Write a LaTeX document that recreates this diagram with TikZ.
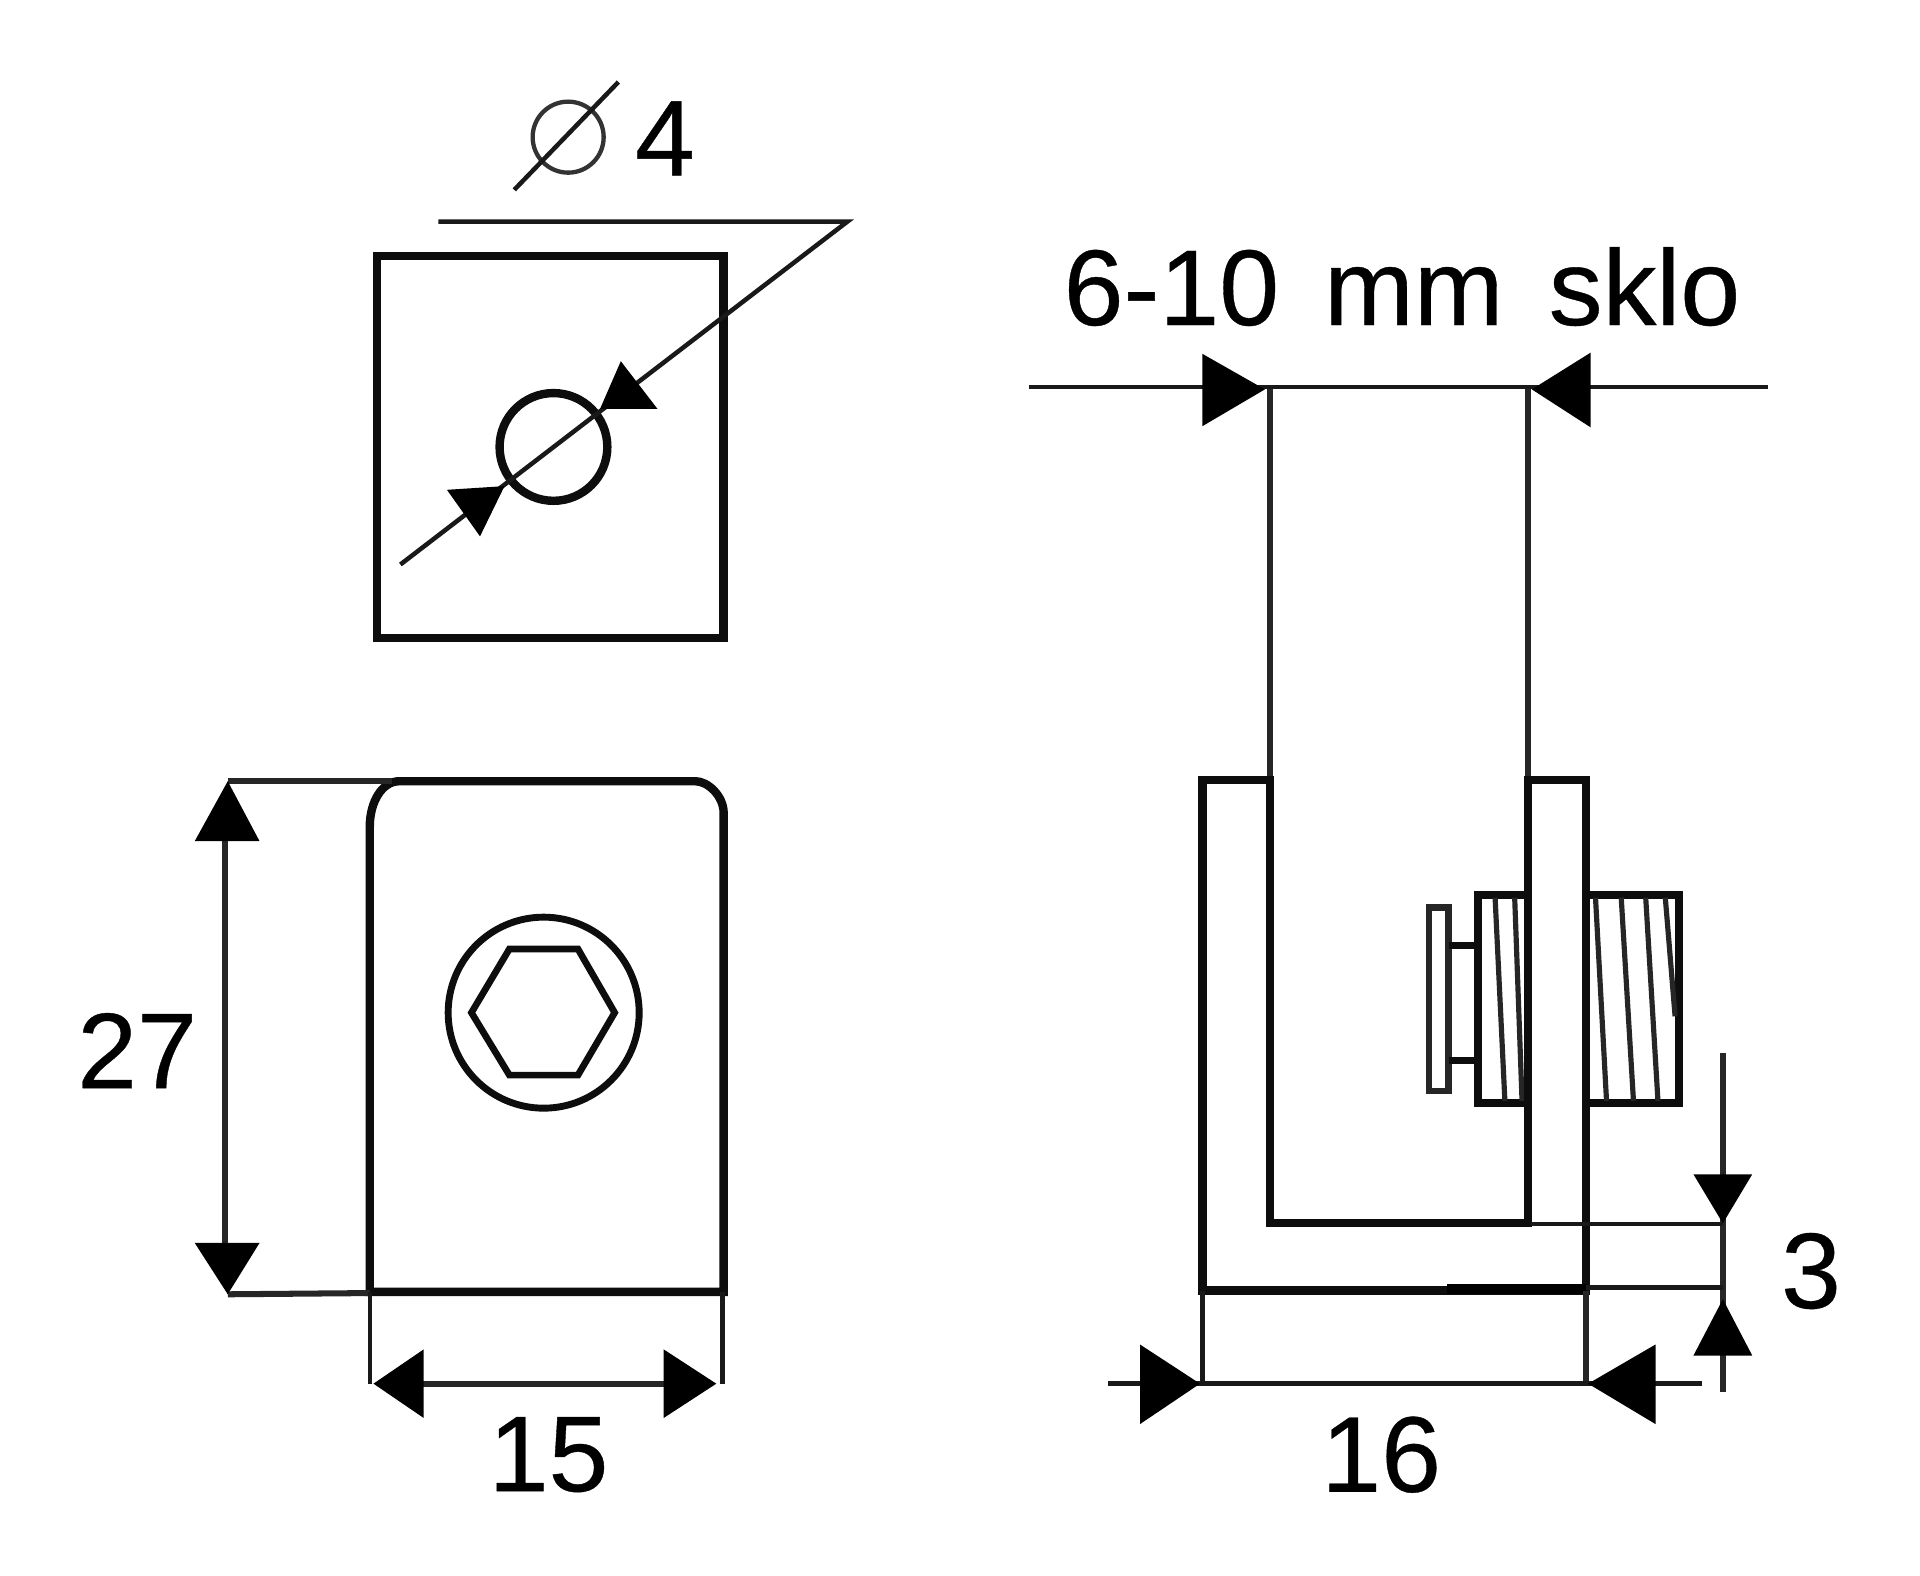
\documentclass[tikz,border=0pt]{standalone}
\usepackage{fontspec}
\setmainfont[FakeBold=0.35]{Liberation Sans}
\tikzset{
  x=0.01cm,y=-0.01cm,
  heavy/.style={line width=1.95pt,draw=black!95,line join=miter},
  medium/.style={line width=1.4pt,draw=black!85},
  thin line/.style={line width=1.05pt,draw=black!90},
  dimtext/.style={font=\fontsize{25}{28}\selectfont,inner sep=0pt,text=black},
  head/.style={fill=black,draw=none},
}
\begin{document}
\begin{tikzpicture}
\useasboundingbox (0,0) rectangle (1568,1287);
% top view
\draw[heavy] (308,209) rectangle (591,521);
\draw[heavy] (452,365) circle (44);
\coordinate (lk) at (692,181);
\draw[thin line] (358,181) -- (lk) -- (327,461);
\fill[head] (507,295) -- (537,334) -- (490,334) -- cycle;
\fill[head] (365,400) -- (412,397) -- (392,438) -- cycle;
% diameter symbol and label
\draw[line width=1pt,draw=black!80] (464,112) circle (29);
\draw[thin line] (420,155) -- (505,67);
\node[dimtext] (dia) at (543,113) {4};
% front view
\draw[heavy] (302,1055) -- (302,675) .. controls (302,655) and (312,638) .. (326,638) -- (568,638) .. controls (578,638) and (591,650) .. (591,664) -- (591,1055) -- cycle;
\draw[heavy,line width=1.6pt] (444,827) circle (78);
\draw[heavy,line width=1.55pt] (385,827) -- (416,775) -- (472,775) -- (502,827) -- (472,878) -- (416,878) -- cycle;
% dim 27
\coordinate (a27t) at (186,638);
\coordinate (a27b) at (186,1057);
\draw[medium] (a27t) -- (320,638);
\draw[medium] (a27b) -- (302,1056);
\draw[medium] (184,680) -- (184,1020);
\fill[head] (a27t) -- (212,687) -- (159,687) -- cycle;
\fill[head] (a27b) -- (212,1015) -- (159,1015) -- cycle;
\node[dimtext] (t27) at (112,858) {27};
% dim 15
\draw[thin line] (302,1055) -- (302,1130);
\draw[thin line] (590,1055) -- (590,1130);
\draw[medium] (340,1130) -- (550,1130);
\fill[head] (305,1130) -- (346,1102) -- (346,1158) -- cycle;
\fill[head] (585,1130) -- (542,1102) -- (542,1158) -- cycle;
\node[dimtext] (t15) at (448,1188) {15};
% side view: glass
\draw[medium] (1037,316) -- (1037,640);
\draw[medium] (1248,316) -- (1248,640);
\draw[thin line] (840,316) -- (1444,316);
\fill[head] (1033,318) -- (982,289) -- (982,348) -- cycle;
\fill[head] (1251,318) -- (1299,288) -- (1299,349) -- cycle;
\node[dimtext] (glass) at (1145,234) {6-10\hspace{0.42em}mm\hspace{0.42em}sklo};
% nuts
\draw[heavy] (1248,731) -- (1207,731) -- (1207,901) -- (1248,901);
\draw[heavy] (1295,731) -- (1371,731) -- (1371,901) -- (1295,901);
\draw[medium,line width=1.5pt] (1167,741) rectangle (1183,891);
\draw[heavy,line width=1.5pt] (1183,772) -- (1207,772);
\draw[heavy,line width=1.5pt] (1183,866) -- (1207,866);
\foreach \a/\b in {1221/1229,1237/1243,1303/1312,1324/1334,1344/1354}
  \draw[medium,line width=1.2pt] (\a,733) -- (\b,899);
\draw[medium,line width=1.2pt] (1360,733) -- (1368,830);
% bracket
\draw[heavy] (1037,637) -- (982,637) -- (982,1054) -- (1295,1054) -- (1295,637) -- (1248,637) -- (1248,999) -- (1037,999) -- cycle;
\draw[line width=2.3pt,draw=black] (1182,1052.5) -- (1295,1052.5);
% dim 3
\draw[medium] (1407,860) -- (1407,1137);
\draw[thin line] (1250,999.5) -- (1407,999.5);
\draw[thin line] (1295,1051.5) -- (1407,1051.5);
\fill[head] (1407,999) -- (1383,959) -- (1431,959) -- cycle;
\fill[head] (1407,1061) -- (1383,1107) -- (1431,1107) -- cycle;
\node[dimtext] (t3) at (1479,1038) {3};
% dim 16
\draw[thin line] (982,1054) -- (982,1130);
\draw[medium] (1295,1054) -- (1295,1130);
\draw[thin line] (905,1130) -- (1390,1130);
\fill[head] (980,1130) -- (931,1098) -- (931,1163) -- cycle;
\fill[head] (1297,1130) -- (1352,1098) -- (1352,1163) -- cycle;
\node[dimtext] (t16) at (1128,1188) {16};
\end{tikzpicture}
\end{document}
